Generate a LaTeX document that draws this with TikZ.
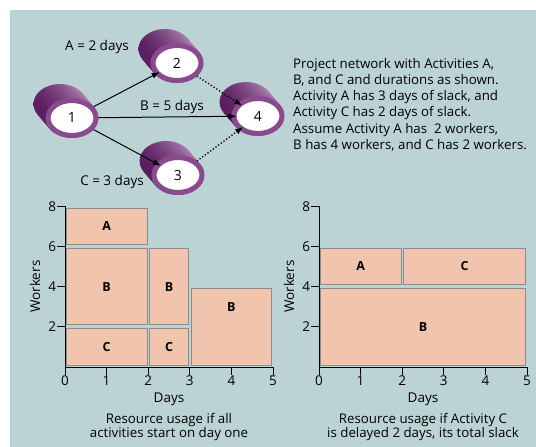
\documentclass[tikz,border=0pt]{standalone}
\usepackage{fontspec}
\setmainfont{Open Sans}
\usetikzlibrary{calc, shapes.geometric, arrows.meta}

\begin{document}
\begin{tikzpicture}[x=1pt, y=-1pt,
    drum/.style={ellipse, fill=white, draw=ringColour, line width=5pt,
        minimum width=48pt, minimum height=35pt, inner sep=0pt, outer sep=0pt,
        font=\fontsize{14}{16}\selectfont},
    link/.style={line width=1pt, -{Latex[length=8pt, width=6pt]},
        shorten <=2.5pt, shorten >=-2.5pt},
    slack/.style={link, line width=1.3pt, dotted},
    bar/.style={fill=barColour, draw=barEdge, line width=0.8pt},
    barlabel/.style={font=\fontsize{12.5}{14}\selectfont\bfseries},
    ticklabel/.style={font=\fontsize{13.5}{16}\selectfont},
    caption/.style={font=\fontsize{13.3}{14}\selectfont, align=center}]
    % Define colors
    \definecolor{bgColour}{HTML}{BCD3D5}
    \definecolor{barColour}{HTML}{F1C5AD}
    \definecolor{barEdge}{HTML}{8C8C8C}
    \definecolor{ringColour}{HTML}{8A4A8E}
    \definecolor{drumDark}{HTML}{5B1E61}
    \definecolor{drumLight}{HTML}{B890BC}

    % Page and background
    \useasboundingbox (0,0) rectangle (536,447);
    \fill[bgColour] (10,10) rectangle (536,447);

    % Draw the drum bodies behind the event nodes
    \foreach \cx/\cy in {72/118, 177/63, 178/175, 258/116}
        \foreach \k in {0,...,12}
            \shade[left color=drumDark, right color=drumLight]
                ($(\cx,\cy)+(-12+\k,-14+1.1667*\k)$) ellipse (26.5 and 20);

    % Event nodes
    \node[drum] (n1) at (72,118) {1};
    \node[drum] (n2) at (177,63) {2};
    \node[drum] (n3) at (178,175) {3};
    \node[drum] (n4) at (258,116) {4};

    % Activities
    \draw[link] (n1) -- (n2);
    \draw[link] (n1) -- (n4);
    \draw[link] (n1) -- (n3);
    \draw[slack] (n2) -- (n4);
    \draw[slack] (n3) -- (n4);
    \node[ticklabel] (labA) at (97,47) {A = 2 days};
    \node[ticklabel] (labB) at (172,107) {B = 5 days};
    \node[ticklabel] (labC) at (112,182) {C = 3 days};

    % Description
    \node[anchor=north west, align=left, inner sep=0pt,
        font=\fontsize{13.3}{16.2}\selectfont] (note) at (293,58)
        {Project network with Activities A,\\
         B, and C and durations as shown.\\
         Activity A has 3 days of slack, and\\
         Activity C has 2 days of slack.\\
         Assume Activity A has~ 2 workers,\\
         B has 4 workers, and C has 2 workers.};

    % Charts: origin x, bars (x0/y0/x1/y1/label/label x/label y), caption
    \def\gap{0.03}
    \foreach \ox/\bars/\capA/\capB in {
        65/{0/6/2/8/A/1/7, 0/2/2/6/B/1/4, 0/0/2/2/C/1/1, 2/2/3/6/B/2.5/4, 2/0/3/2/C/2.5/1, 3/0/5/4/B/4/3}/{Resource usage if all}/{activities start on day one},
        319/{0/4/2/6/A/1/5, 2/4/5/6/C/3.5/5, 0/0/5/4/B/2.5/2}/{Resource usage if Activity C}/{is delayed 2 days, its total slack}} {
    \begin{scope}[shift={(\ox,367)}, x=41.6pt, y=20.1pt]
        % Draw bars
        \foreach \xa/\ya/\xb/\yb/\t/\lx/\ly in \bars {
            \draw[bar] (\xa+\gap,\ya+0.1) rectangle (\xb-\gap,\yb-0.1);
            \node[barlabel] at (\lx,\ly) {\t};
        }
        % Draw axes
        \draw[line width=0.9pt] (0,8) -- (0,0) -- (5,0);
        \foreach \x in {0,...,5}
            \draw[line width=0.9pt] (\x,0) -- (\x,-0.4) node[ticklabel, anchor=north, inner sep=0.5pt] {\x};
        \foreach \y in {2,4,6,8}
            \draw[line width=0.9pt] (0,\y) -- (-0.19,\y) node[ticklabel, anchor=east, inner sep=0.5pt] {\y};
        \node[ticklabel, rotate=90] at (-0.72,4) {Workers};
        \node[ticklabel] at (2.5,-1.6) {Days};
        \node[caption] at (2.5,-2.98) {\capA\\\capB};
    \end{scope}
    }

\end{tikzpicture}
\end{document}
